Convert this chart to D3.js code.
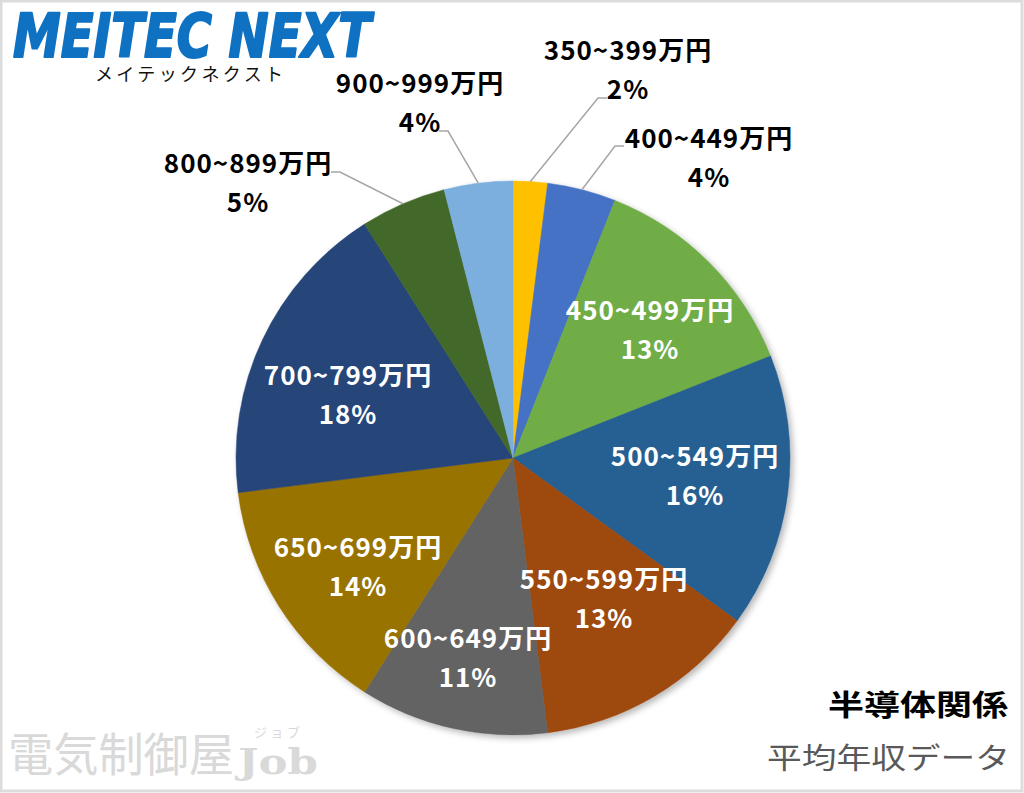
<!DOCTYPE html>
<html><head><meta charset="utf-8">
<script src="https://cdn.jsdelivr.net/npm/d3@7"></script>
<style>
html,body{margin:0;padding:0;background:#fff;}
svg{display:block;}
</style></head>
<body>
<svg id="chart" width="1024" height="793"></svg>
<script>
// ---- data ----
const categories = ["350~399万円","400~449万円","450~499万円","500~549万円","550~599万円","600~649万円","650~699万円","700~799万円","800~899万円","900~999万円"];
const shares = [2,4,13,16,13,11,14,18,5,4];
const colors = ["#FFC000","#4472C4","#70AD47","#255E91","#9E480E","#636363","#997300","#264478","#43682B","#7CAFDD"];
const title1 = "半導体関係";
const title2 = "平均年収データ";

// ---- layout (label anchors relative to pie center; outside labels have leader ends) ----
const cx = 513, cy = 458, R = 277;
const labelLayout = [
  {x:115, y:-398, outside:true, end:[85,-360], dir:-1},
  {x:196, y:-310, outside:true, end:[102,-312], dir:-1},
  {x:137, y:-138, outside:false},
  {x:182, y:8, outside:false},
  {x:91, y:131, outside:false},
  {x:-45, y:190, outside:false},
  {x:-155, y:99, outside:false},
  {x:-165, y:-73, outside:false},
  {x:-265, y:-285, outside:true, end:[-173,-286], dir:1},
  {x:-93, y:-365, outside:true, end:[-65,-327], dir:1}
];

const svg = d3.select("#chart");
const defs = svg.append("defs");
const f = defs.append("filter").attr("id","sh").attr("x","-10%").attr("y","-10%").attr("width","125%").attr("height","125%");
f.append("feDropShadow").attr("dx",3).attr("dy",3).attr("stdDeviation",3).attr("flood-color","#000").attr("flood-opacity",0.28);

// border
svg.append("rect").attr("x",1).attr("y",1).attr("width",1021).attr("height",790)
  .attr("fill","#fff").attr("stroke","#dcdcdc").attr("stroke-width",3);

// logo
svg.append("text").attr("x",13).attr("y",57)
  .attr("font-family","'DejaVu Sans', 'Liberation Sans', sans-serif")
  .attr("font-weight","bold").attr("font-style","italic")
  .attr("font-size",60).attr("fill","#0F71C2")
  .attr("stroke","#0F71C2").attr("stroke-width",2.2).attr("stroke-linejoin","round")
  .attr("textLength",358).attr("lengthAdjust","spacingAndGlyphs")
  .text("MEITEC NEXT");
svg.append("text").attr("x",95).attr("y",81)
  .attr("font-family","'Noto Sans CJK JP', sans-serif")
  .attr("font-size",18).attr("fill","#111")
  .attr("textLength",188).attr("lengthAdjust","spacing")
  .text("メイテックネクスト");

// watermark
const wm = svg.append("g").attr("fill","#d9d9d9");
wm.append("text").attr("x",8).attr("y",771)
  .attr("font-family","'Noto Sans CJK JP', sans-serif").attr("font-size",46)
  .attr("textLength",226).attr("lengthAdjust","spacingAndGlyphs")
  .text("電気制御屋");
wm.append("text").attr("x",238).attr("y",774)
  .attr("font-family","'DejaVu Serif', serif").attr("font-weight","bold")
  .attr("font-size",36).attr("textLength",80).attr("lengthAdjust","spacingAndGlyphs")
  .text("Job");
wm.append("text").attr("x",254).attr("y",737)
  .attr("font-family","'Noto Sans CJK JP', sans-serif").attr("font-size",13)
  .attr("textLength",46).attr("lengthAdjust","spacing")
  .text("ジョブ");

// bottom-right titles
svg.append("text").attr("x",1008).attr("y",716).attr("text-anchor","end")
  .attr("font-family","'Noto Sans CJK JP', sans-serif").attr("font-weight","bold")
  .attr("font-size",29).attr("fill","#000")
  .attr("textLength",180).attr("lengthAdjust","spacingAndGlyphs")
  .text(title1);
svg.append("text").attr("x",1010).attr("y",769).attr("text-anchor","end")
  .attr("font-family","'Noto Sans CJK JP', sans-serif")
  .attr("font-size",29).attr("fill","#595959")
  .attr("textLength",243).attr("lengthAdjust","spacingAndGlyphs")
  .text(title2);

// pie
const data = categories.map((c,i)=>({cat:c, v:shares[i], color:colors[i], lay:labelLayout[i]}));
const pie = d3.pie().value(d=>d.v).sort(null);
const arcs = pie(data);
const arc = d3.arc().innerRadius(0).outerRadius(R);
const edge = d3.arc().innerRadius(R).outerRadius(R);

const g = svg.append("g").attr("transform",`translate(${cx},${cy})`);
g.append("g").attr("filter","url(#sh)")
  .selectAll("path").data(arcs).join("path")
  .attr("d",arc).attr("fill",d=>d.data.color)
  .attr("stroke",d=>d.data.color).attr("stroke-width",0.5);

// leader lines
const outs = arcs.filter(d=>d.data.lay.outside);
g.selectAll("polyline.leader").data(outs).join("polyline")
  .attr("class","leader")
  .attr("fill","none").attr("stroke","#a6a6a6").attr("stroke-width",1.5)
  .attr("points",d=>{
    const s = edge.centroid(d);
    const e = d.data.lay.end;
    const e2 = [e[0] - d.data.lay.dir*9, e[1]];
    return [s, e, e2].map(p=>p.join(",")).join(" ");
  });

// labels
const lbl = g.selectAll("text.lbl").data(arcs).join("text")
  .attr("class","lbl")
  .attr("text-anchor","middle")
  .attr("font-family","'Noto Sans CJK JP', sans-serif")
  .attr("font-weight","bold").attr("font-size",26)
  .attr("letter-spacing",1)
  .attr("fill",d=>d.data.lay.outside ? "#000" : "#fff");
lbl.append("tspan").attr("x",d=>d.data.lay.x).attr("y",d=>d.data.lay.y).text(d=>d.data.cat);
lbl.append("tspan").attr("x",d=>d.data.lay.x).attr("y",d=>d.data.lay.y+39).text(d=>d.data.v+"%");
</script>
</body></html>
